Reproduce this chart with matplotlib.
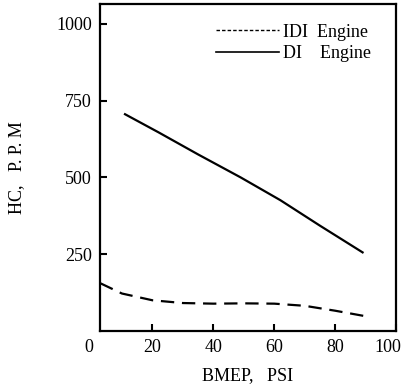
import matplotlib
matplotlib.use("Agg")
import matplotlib.pyplot as plt
from matplotlib.lines import Line2D
from matplotlib.transforms import ScaledTranslation

# Data
di_x = [11, 22, 35, 49, 62, 75, 89]
di_y = [706, 647, 575, 500, 426, 343, 256]
idi_x = [3, 10, 20, 30, 40, 50, 60, 70, 80, 90]
idi_y = [155, 122, 100, 91, 89, 90, 89, 82, 66, 48]
x_ticks = [20, 40, 60, 80, 100]
y_ticks = [250, 500, 750, 1000]

plt.rcParams['font.family'] = ['Liberation Serif', 'DejaVu Serif']

fig = plt.figure(figsize=(4.05, 3.91), dpi=100)
ax = fig.add_axes([0.247, 0.1535, 0.731, 0.8363])

ax.plot(idi_x, idi_y, color='black', lw=1.6, dashes=(6, 3.5))
ax.plot(di_x, di_y, color='black', lw=1.6)

ax.set_xlim(2.8, 100)
ax.set_ylim(0, 1065)
ax.set_xticks(x_ticks)
ax.set_yticks(y_ticks)
ax.tick_params(direction='in', length=5, width=1.5, labelsize=13, pad=6)
for s in ax.spines.values():
    s.set_linewidth(1.6)

# shift the "100" label slightly left, as in the reference
fig.canvas.draw()
lbl = ax.get_xticklabels()[-1]
lbl.set_transform(lbl.get_transform() + ScaledTranslation(-8 / 100, 0, fig.dpi_scale_trans))

ax.annotate("0", xy=(0, 0), xycoords='data', xytext=(-2, -6),
            textcoords='offset points', ha='center', va='top',
            fontsize=13, annotation_clip=False)

ax.set_xlabel("BMEP,   PSI", fontsize=13, labelpad=8)
ax.set_ylabel("HC,   P. P. M", fontsize=13, labelpad=22)

handles = [Line2D([], [], color='black', lw=1.0, dashes=(2.5, 1.5)),
           Line2D([], [], color='black', lw=1.2)]
ax.legend(handles, ["IDI  Engine", "DI    Engine"], loc='upper right',
          bbox_to_anchor=(0.97, 0.99), frameon=False, fontsize=13,
          handlelength=3.5, handletextpad=0.2, labelspacing=0.25)

fig.savefig("out.png", dpi=100)
